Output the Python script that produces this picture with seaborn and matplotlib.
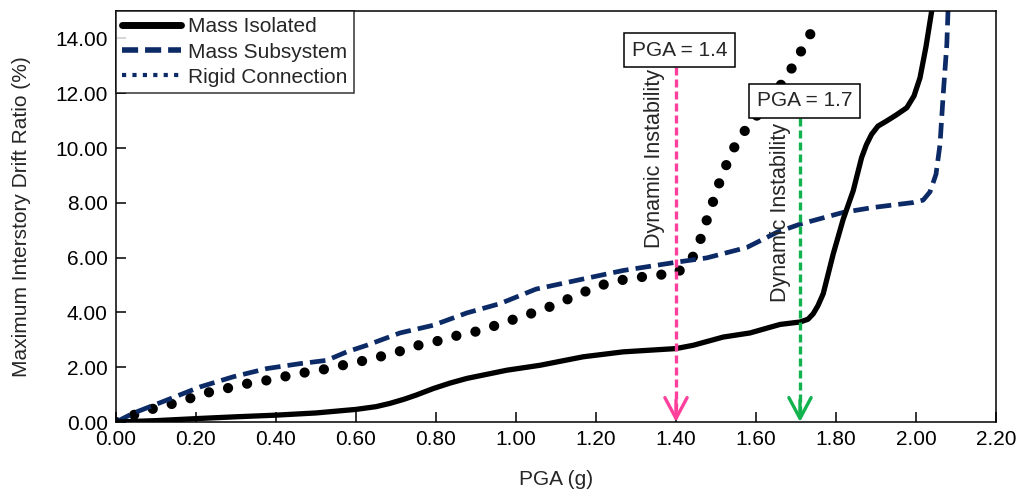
import numpy as np
import pandas as pd
import matplotlib
matplotlib.use("Agg")
import matplotlib.pyplot as plt
from matplotlib.lines import Line2D
import seaborn as sns

# ---------------- data ----------------
iso_x = [0.00, 0.10, 0.21, 0.30, 0.40, 0.50, 0.60, 0.65, 0.685, 0.72, 0.75, 0.793, 0.835,
         0.877, 0.977, 1.06, 1.168, 1.268, 1.40, 1.443, 1.518, 1.585, 1.643, 1.66, 1.71,
         1.73, 1.743, 1.755, 1.768, 1.793, 1.818, 1.843, 1.864, 1.876, 1.889, 1.905,
         1.926, 1.95, 1.977, 1.995, 2.01, 2.025, 2.039, 2.045]
iso_y = [0.00, 0.05, 0.13, 0.19, 0.25, 0.33, 0.46, 0.56, 0.68, 0.83, 0.98, 1.22, 1.42,
         1.59, 1.89, 2.07, 2.38, 2.56, 2.68, 2.80, 3.10, 3.25, 3.49, 3.56, 3.65,
         3.75, 3.95, 4.25, 4.68, 6.13, 7.40, 8.44, 9.65, 10.12, 10.50, 10.80,
         10.98, 11.20, 11.47, 11.90, 12.56, 13.70, 14.98, 15.6]

sub_x = [0.00, 0.043, 0.127, 0.21, 0.293, 0.377, 0.46, 0.527, 0.577, 0.627, 0.71,
         0.793, 0.877, 0.96, 1.05, 1.168, 1.268, 1.40, 1.477, 1.577, 1.652, 1.71,
         1.818, 1.893, 1.993, 2.018, 2.035, 2.05, 2.06, 2.068, 2.077, 2.08, 2.082]
sub_y = [0.00, 0.32, 0.80, 1.28, 1.65, 1.95, 2.13, 2.25, 2.56, 2.80, 3.25,
         3.53, 3.98, 4.32, 4.85, 5.22, 5.53, 5.83, 5.99, 6.37, 6.92, 7.22,
         7.65, 7.83, 8.01, 8.10, 8.40, 9.04, 10.13, 11.95, 13.77, 14.98, 15.6]

rig_x = [0.00, 0.043, 0.089, 0.135, 0.18, 0.228, 0.275, 0.32, 0.37, 0.418, 0.465,
         0.51, 0.56, 0.608, 0.656, 0.703, 0.75, 0.798, 0.845, 0.89, 0.938, 0.983,
         1.03, 1.075, 1.118, 1.163, 1.208, 1.255, 1.30, 1.35, 1.398, 1.435, 1.457,
         1.47, 1.487, 1.50, 1.518, 1.536, 1.558, 1.588, 1.677, 1.70, 1.723, 1.746]
rig_y = [0.00, 0.25, 0.47, 0.64, 0.84, 1.07, 1.22, 1.38, 1.50, 1.65, 1.79,
         1.89, 2.05, 2.20, 2.37, 2.55, 2.78, 2.93, 3.13, 3.26, 3.47, 3.69,
         3.92, 4.15, 4.41, 4.70, 4.97, 5.16, 5.26, 5.37, 5.40, 5.82, 6.46,
         7.10, 7.76, 8.41, 9.10, 9.75, 10.37, 10.92, 12.58, 13.20, 13.80, 14.44]

series_labels = ["Mass Isolated", "Mass Subsystem", "Rigid Connection"]
x_ticks = [0.00, 0.20, 0.40, 0.60, 0.80, 1.00, 1.20, 1.40, 1.60, 1.80, 2.00, 2.20]
y_ticks = [0.00, 2.00, 4.00, 6.00, 8.00, 10.00, 12.00, 14.00]

pga_marks = [1.40, 1.71]
pga_texts = ["PGA = 1.4", "PGA = 1.7"]
pga_colors = ["#ff3f9c", "#12b24f"]

NAVY = "#0b2a66"

# ---------------- style ----------------
sns.set_style("ticks")
plt.rcParams['font.family'] = ['Liberation Sans', 'DejaVu Sans']

fig = plt.figure(figsize=(10.19, 4.90), dpi=100)
ax = fig.add_axes([116/1019, 1-422/490, (996-116)/1019, (422-11)/490])

df_iso = pd.DataFrame({"x": iso_x, "y": iso_y})
df_sub = pd.DataFrame({"x": sub_x, "y": sub_y})
df_rig = pd.DataFrame({"x": rig_x, "y": rig_y})

sns.lineplot(data=df_rig, x="x", y="y", ax=ax, color="black", linewidth=7.4,
             estimator=None, sort=False, legend=False)
ax.lines[-1].set_linestyle((0, (0.001, 1.9)))
ax.lines[-1].set_dash_capstyle("round")

sns.lineplot(data=df_sub, x="x", y="y", ax=ax, color=NAVY, linewidth=3.4,
             estimator=None, sort=False, legend=False)
ax.lines[-1].set_linestyle((0, (3.3, 1.5)))

sns.lineplot(data=df_iso, x="x", y="y", ax=ax, color="black", linewidth=3.8,
             estimator=None, sort=False, legend=False)
ax.lines[-1].set_solid_capstyle("round")
ax.lines[-1].set_solid_joinstyle("round")

ax.set_xlim(0, 2.2)
ax.set_ylim(0, 15)
ax.set_xticks(x_ticks)
ax.set_yticks(y_ticks)
ax.set_xticklabels([f"{v:.2f}" for v in x_ticks])
ax.set_yticklabels([f"{v:.2f}" for v in y_ticks])
ax.tick_params(direction="in", length=7, width=1.1, labelsize=15, pad=6, colors="black")
for s in ax.spines.values():
    s.set_visible(True)
    s.set_linewidth(1.1)
    s.set_color("black")

ax.set_xlabel("PGA (g)", fontsize=15)
ax.set_ylabel("Maximum Interstory Drift Ratio (%)", fontsize=15)
ax.xaxis.set_label_coords(0.5, -0.117)
ax.yaxis.set_label_coords(-0.097, 0.5)

# ---------------- annotations ----------------
box_y = [13.56, 11.73]
box_x = [1.409, 1.721]
box_bottom = [12.96, 11.08]
txt_x = [1.3725, 1.6875]
txt_top = [12.88, 10.93]
for xm, t, c, bx, by, bb, tx, tt in zip(pga_marks, pga_texts, pga_colors, box_x, box_y,
                                        box_bottom, txt_x, txt_top):
    ax.plot([xm, xm], [bb, 0.2], color=c, lw=2.4, linestyle=(0, (2.4, 1.2)), zorder=5)
    ax.annotate("", xy=(xm, 0.0), xytext=(xm, 0.8),
                arrowprops=dict(arrowstyle="->,head_length=0.75,head_width=0.4",
                                color=c, lw=2.4, mutation_scale=20,
                                shrinkA=0, shrinkB=0), zorder=6)
    ax.text(bx, by, t, ha="center", va="center", fontsize=15, zorder=8,
            bbox=dict(boxstyle="square,pad=0.36", fc="white", ec="black", lw=1.1))
    ax.text(tx, tt, "Dynamic Instability", rotation=90, ha="right", va="top",
            fontsize=15.5, zorder=7)

# ---------------- legend ----------------
handles = [
    Line2D([], [], color="black", lw=5, solid_capstyle="round"),
    Line2D([], [], color=NAVY, lw=4, linestyle=(0, (2.9, 1.25))),
    Line2D([], [], color=NAVY, lw=3, linestyle=(0, (1, 1.5))),
]
leg = ax.legend(handles, series_labels, loc="upper left", bbox_to_anchor=(0, 1),
                borderaxespad=0, fontsize=15, frameon=True, fancybox=False,
                handlelength=2.8, handletextpad=0.35, borderpad=0.3,
                labelspacing=0.3)
leg.get_frame().set_edgecolor("black")
leg.get_frame().set_linewidth(1.1)
leg.set_zorder(10)

fig.savefig("out.png", dpi=100, facecolor="white")
